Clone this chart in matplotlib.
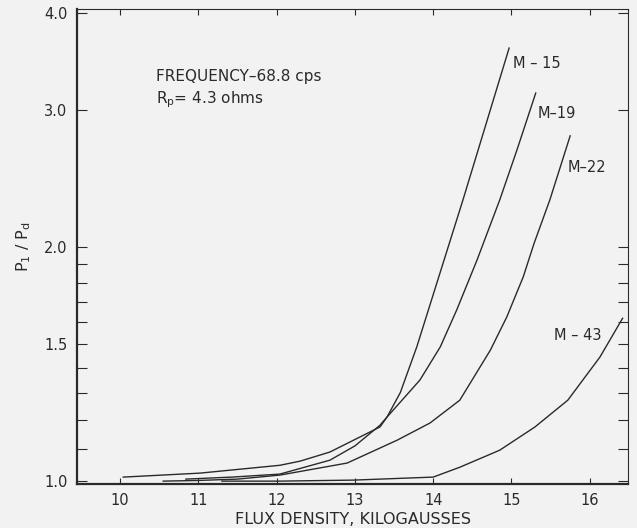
import matplotlib.pyplot as plt
from matplotlib.ticker import FixedLocator, NullFormatter

# curves (flux density kG, P1/Pd)
m15_x = [10.84, 11.43, 12.04, 12.68, 13.00, 13.32, 13.41, 13.58, 13.79, 14.38, 14.97]
m15_y = [1.006, 1.012, 1.021, 1.064, 1.110, 1.180, 1.209, 1.300, 1.488, 2.300, 3.607]

m19_x = [10.04, 11.02, 12.04, 12.30, 12.68, 13.32, 13.41, 13.83, 14.09, 14.30, 14.56, 14.85, 15.07, 15.31]
m19_y = [1.012, 1.024, 1.048, 1.061, 1.090, 1.174, 1.209, 1.349, 1.488, 1.660, 1.925, 2.300, 2.667, 3.157]

m22_x = [10.55, 11.00, 11.50, 12.04, 12.90, 13.54, 13.96, 14.34, 14.73, 14.94, 15.15, 15.29, 15.49, 15.75]
m22_y = [1.000, 1.002, 1.006, 1.018, 1.055, 1.129, 1.188, 1.271, 1.474, 1.626, 1.831, 2.024, 2.300, 2.781]

m43_x = [11.30, 12.04, 12.98, 14.00, 14.34, 14.85, 15.30, 15.72, 16.13, 16.42]
m43_y = [1.000, 1.000, 1.003, 1.012, 1.042, 1.096, 1.174, 1.271, 1.444, 1.620]

curves = [(m15_x, m15_y), (m19_x, m19_y), (m22_x, m22_y), (m43_x, m43_y)]
names = ['M – 15', 'M–19', 'M–22', 'M – 43']
label_pos = [(15.02, 3.45), (15.33, 2.97), (15.72, 2.53), (15.54, 1.54)]

x_ticks = [10, 11, 12, 13, 14, 15, 16]
y_major = [1.0, 1.5, 2.0, 3.0, 4.0]
y_minor = [1.1, 1.2, 1.3, 1.4, 1.6, 1.7, 1.8, 1.9]

ink = '#2a2a2a'
bg = '#f2f2f2'

fig = plt.figure(figsize=(6.37, 5.28), dpi=100, facecolor=bg)
ax = fig.add_axes([0.121, 0.083, 0.865, 0.900], facecolor=bg)

for (xs, ys) in curves:
    ax.plot(xs, ys, color=ink, lw=1.0)

for name, (lx, ly) in zip(names, label_pos):
    ax.text(lx, ly, name, fontsize=10.5, color=ink, ha='left', va='center')

ax.set_yscale('log')
ax.set_xlim(9.45, 16.49)
ax.set_ylim(0.991, 4.05)

ax.xaxis.set_major_locator(FixedLocator(x_ticks))
ax.set_xticklabels([str(t) for t in x_ticks])
ax.yaxis.set_major_locator(FixedLocator(y_major))
ax.yaxis.set_minor_locator(FixedLocator(y_minor))
ax.set_yticklabels(['%.1f' % v for v in y_major])
ax.yaxis.set_minor_formatter(NullFormatter())

ax.tick_params(axis='both', which='both', direction='in', colors=ink,
               labelsize=10.5, top=True, right=True)
ax.tick_params(axis='y', which='both', length=7, width=0.8, pad=7)
ax.tick_params(axis='x', which='both', length=4, width=0.8, pad=6)

for side in ['left', 'bottom']:
    ax.spines[side].set_linewidth(1.6)
for side in ['top', 'right']:
    ax.spines[side].set_linewidth(0.8)
for s in ax.spines.values():
    s.set_color(ink)

ax.text(0.143, 0.857, 'FREQUENCY–68.8 cps', transform=ax.transAxes,
        fontsize=11, color=ink, va='center')
ax.text(0.143, 0.81, 'R$_\\mathregular{p}$= 4.3 ohms', transform=ax.transAxes,
        fontsize=11, color=ink, va='center')

ax.set_xlabel('FLUX DENSITY, KILOGAUSSES', fontsize=11.5, color=ink, labelpad=3)
ax.set_ylabel('P$_\\mathregular{1}$ / P$_\\mathregular{d}$', fontsize=11.5, color=ink, labelpad=8)

fig.savefig('out.png', dpi=100, facecolor=bg)
